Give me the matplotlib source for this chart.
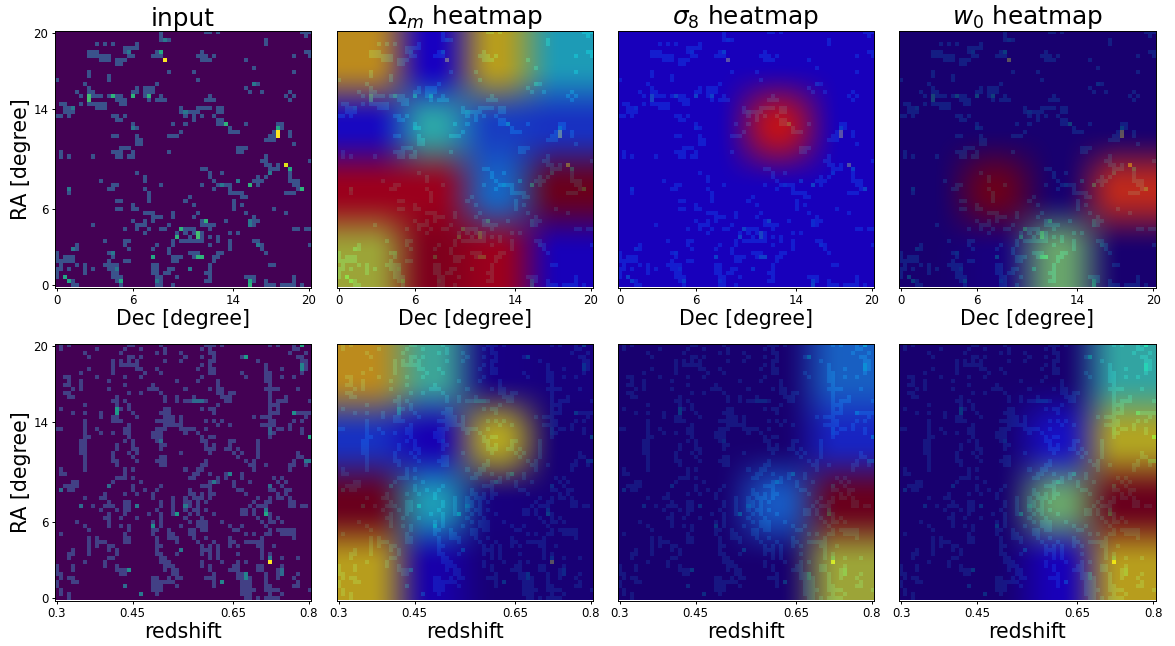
import numpy as np
import matplotlib
matplotlib.use("Agg")
import matplotlib.pyplot as plt

N = 64
tick_pos = [0, 19, 44, 63]
dec_labels = ["0", "6", "14", "20"]
ra_labels = ["0", "6", "14", "20"]
z_labels = ["0.3", "0.45", "0.65", "0.8"]

# faint occupied cells: row -> columns
top_cells = {
63: [26,37,38,40,61,62,63], 62: [26,62], 61: [26,28,52], 60: [10,12,14,20,52], 59: [17,18,19,20],
58: [8,9,10,17,18,25,26,36,62,63], 57: [8,9,10,11,12,13,18,19,24,25,26,35,36,37,39,59,63],
56: [11,12,13,15,16,17,36,37,38,47], 55: [15,16], 54: [49], 53: [8,28,34,59], 52: [8,13], 51: [0,13,35],
50: [7,25,49,50], 49: [8,20,22,23,24,47], 48: [5,8,9,19,20,22,23,24,48,51,58],
47: [6,8,9,10,11,13,14,15,16,19,22,23,26,38,57,59], 46: [8,15,16,17,23,25,26,27,37,38,39,58],
45: [1,2,6,8,9,10,11,12,16,17], 44: [2,3,10,11,12,31,35,36,37,38,40,41],
43: [2,3,4,31,32,33,34,35,40,41], 42: [0,1,3,14,15,17,32,34,36,39], 41: [15,16,34,40,41],
40: [19,29,32,40,41,47,55,56], 39: [19,20,43,55,56], 38: [31,43,44,45,54,58], 37: [14,15,20,28,29,30,53,54,55,58],
36: [20,21,52,53,54], 35: [20,21,59], 34: [16,17,18,45,46,47], 33: [1,14,15,16,19,28,45,46],
32: [1,3,9,15,16,18,19,52], 31: [63,51,52], 30: [52,53,55], 29: [36,37,53,54,55], 28: [20,38,41,53,58],
27: [22,38,50,52,58], 26: [11,22,39,49,50,51,58,59,60], 25: [14,15,26,36,40,41,42,43,50,59,60],
24: [3,13,14,22,39,43,60], 23: [3,23,43,44,45,46,57,58,59], 22: [23,33,46,47], 21: [15,16,23,32,44],
20: [19,34,44,46], 19: [15,16,19,20,44,54], 18: [22,23,24,29,35,47,57], 17: [24,25,26,29,34,49],
16: [19,22,24,36,42,49,50], 15: [9,20,21,22,28,36,37,38,39,49], 14: [17,20,23,26,27,32,33,34,38,59,60,62,63],
13: [22,30,32,34,36,43,45], 12: [30,33,36,38,40], 11: [12,17,18,29,31,32,33,34,35,36,40,43,49,50],
10: [5,17,25,29,38,43,50,51,63], 9: [5,18,24,28,43,51], 8: [0,13,28,33,34,35,40,41,52],
7: [0,2,3,4,14,29,30,31,34,39,40], 6: [0,1,2,3,4,13,17,18,29,30,39], 5: [1,5,7,12,13,14,15,24,25,38,53,54],
4: [0,1,3,7,9,13,14,15,24,25,28,29,38], 3: [0,7,14,15,24,25,27,28,37,38], 2: [0,2,14,15,16,25,26,30,38,47,48,49,59],
1: [3,4,15,16,25,26,37,38,49,52,59], 0: [4,5,16,25,26,29,52,53,54,56,57,58,59,61],
}
# brighter cells: (column, row, value)
top_bright = [(27,56,1.0),(55,38,1.0),(55,37,1.0),(55,39,.6),(57,30,.95),(8,46,.7),(8,47,.7),(14,47,.65),
(19,47,.65),(23,47,.65),(26,58,.6),(42,40,.65),(48,25,.65),(61,24,.65),(58,29,.6),(37,16,.65),(31,14,.65),
(30,12,.65),(35,12,.7),(35,13,.7),(24,7,.6),(35,7,.65),(36,7,.65),(48,0,.65),(48,1,.6),(16,1,.6),(2,2,.6),
(3,1,.6),(3,24,.4),(27,61,.4),(49,50,.4),(48,15,.4),(48,16,.4),(50,10,.4),(4,9,.4),(33,4,.4),
(18,58,.4),(19,39,.4),(45,26,.4),(53,28,.4),(41,25,.4),(14,8,.4),(15,4,.4),(25,1,.4),(32,43,.4),(4,44,.4)]

bot_cells = {
63: [1,3,18,19,26,37,38,39,41,53,55,59], 62: [1,10,17,21,27,36,38,59,60], 61: [7,16,25,27,31,38,39,58,62],
60: [8,18,19,21,32,36,39,46,60,61], 59: [14,16,18,20,27,31,38,39,50,61,62], 58: [14,16,17,18,19,20,36,38,52,62],
57: [8,14,20,21,25,35,38,39,52,56,62], 56: [6,14,22,26,38,39,46,52,53,61], 55: [2,3,10,17,21,36,47,52,53,56,59],
54: [3,6,13,30,35,40,52,53], 53: [2,3,6,17,24,40,53], 52: [4,6,13,23,24,25,32,38,40,41,52,53,54,55,60],
51: [2,3,18,21,26,40,41,43,44,53], 50: [3,4,15,27,30,34,41,42,43,53,57], 49: [14,15,17,27,30,32,33,37,42,43,53,55,56,57,63],
48: [7,15,18,40,53,54,55], 47: [1,16,18,27,28,36,38,39,53,55], 46: [4,7,11,19,26,27,28,39,53,54,55,60,61,62,63],
45: [11,14,15,20,27,28,29,31,49,51,52,53,62], 44: [7,14,15,16,25,26,27,28,29,31,37,39,41,53,54,59,61],
43: [7,18,27,28,29,30,31,40,43,51,52,53,54,58], 42: [0,1,7,10,17,18,25,26,27,31,32,33,34,37,53,55,56,58,61],
41: [7,11,14,17,18,24,25,26,32,35,54,61], 40: [7,8,18,24,25,26,36,38,39,53], 39: [6,7,17,19,25,36,37,43,44,50],
38: [6,7,15,19,26,27,37,39,43,50], 37: [6,7,15,19,20,26,37,38,39,42,43,45,50], 36: [6,7,14,18,20,31,38,44,46,50,60],
35: [7,14,19,26,27,45,50,60,61], 34: [7,14,15,20,25,26,27,37,47,49,59], 33: [7,15,26,27,36,37,48,49,52,58,59,62],
32: [1,7,17,19,32,35,36,49,58], 31: [1,2,17,34,35,38,42,46], 30: [15,16,17,19,33,34,40,42,46,54,56],
29: [4,5,14,21,38,40,44,48,55,57], 28: [2,3,4,5,19,26,36,37,38,44,56], 27: [3,4,19,22,25,33,38,45,46,53,54,57,58],
26: [12,17,20,24,33,34,36,38,39,47,55,57], 25: [7,11,12,24,29,32,34,35,36,38,50,53,55,56,58],
24: [13,17,18,26,29,32,33,35,37,49,52,53,58,59], 23: [9,12,13,14,17,18,26,29,33,35,48,50,51,52,58,59,61,62],
22: [11,15,17,18,25,29,32,34,35,37,46,47,49,52], 21: [13,17,23,26,29,33,35,39,46,47,49,53],
20: [12,13,16,20,26,32,36,50,53,55], 19: [5,13,24,26,33,35,36,37,41,51,53,54,56], 18: [7,13,16,18,26,31,35,36,37,43,46,52],
17: [8,18,24,25,28,33,34,36,37,44,45,53,55,56,57,58,59], 16: [1,17,24,28,29,33,34,47,49,52,53,56,57,58,59],
15: [8,10,17,18,25,28,29,30,34,37,43,51,59], 14: [8,10,11,12,17,18,25,30,35,39,43,44,47,48,49,50,51],
13: [8,10,13,14,25,26,36,38,40,43,45,50,51,54], 12: [4,8,13,15,25,36,37,38,40,51], 11: [3,4,8,15,25,26,30,36,38,40,45,51,53],
10: [3,13,14,26,27,38,40,51,53,56,60], 9: [7,12,26,27,28,36,41,45,47], 8: [0,4,12,15,27,28,29,36,38,44,45,50,51,56],
7: [0,4,15,16,17,27,29,30,38,43,44,45,50,51,55], 6: [0,1,16,17,29,30,39,45,46,52,55,60], 5: [1,3,4,24,25,28,30,31,37,38,39,45,46,48,52,55,59],
4: [0,4,5,24,25,26,27,28,29,39,46,47,48,52,60], 3: [0,24,25,26,30,39,46,47,48,52,53,59,60], 2: [1,24,25,26,46,47,48,49,52,53,54,55,63],
1: [1,3,25,46,47,48,53,56], 0: [3,47,48,50,52,53,54,55],
}
bot_bright = [(53,9,1.0),(61,63,.6),(47,60,.55),(15,46,.55),(15,47,.55),(63,40,.6),(59,46,.5),(61,57,.45),(61,58,.45),
(30,21,.55),(52,21,.6),(24,18,.5),(18,7,.5),(41,4,.45),(47,5,.45),(47,6,.45),(43,31,.45),(39,29,.4),(26,39,.35),
(62,34,.4),(63,34,.4),(56,6,.35),(56,7,.35),(32,23,.4),(34,49,.35),(35,49,.35),(36,49,.35),(6,23,.35),(20,23,.4),
(13,28,.35),(1,27,.35),(53,28,.35),(53,41,.3),(53,42,.3),(31,12,.4),(21,1,.4),(17,3,.35),(53,10,.4),(52,22,.4)]

# 4x4 heatmap values, rows listed top (RA=20) to bottom (RA=0)
om_top = [[.68,.12,.65,.36],[.14,.39,.22,.20],[.93,.93,.28,1.0],[.60,.97,.93,.10]]
s8_top = [[.105,.105,.105,.105],[.105,.105,.88,.105],[.105,.105,.105,.105],[.105,.105,.105,.105]]
w0_top = [[.00,.00,.00,.00],[.00,.00,.00,.00],[.00,1.0,.00,.84],[.00,.02,.50,.00]]
om_bot = [[.68,.42,.03,.02],[.20,.09,.64,.01],[1.0,.36,.02,.01],[.65,.08,.01,.01]]
s8_bot = [[.00,.00,.00,.27],[.00,.00,.00,.18],[.00,.00,.26,1.0],[.00,.00,.00,.60]]
w0_bot = [[.00,.00,.00,.40],[.00,.00,.15,.64],[.00,.00,.50,1.0],[.00,.00,.10,.65]]

def build_input(cells, bright, level):
    g = np.zeros((N, N))
    for r, cols in cells.items():
        g[r, cols] = level
    for c, r, v in bright:
        g[r, c] = v
    return g

W, H = 1175, 646
fig = plt.figure(figsize=(W / 100, H / 100), dpi=100)
lefts = [54.5, 336.5, 617.5, 899]
tops = [31, 344]
side = 256.5
panels = [
    ("input", None, top_cells, top_bright, .25), (r"$\Omega_m$ heatmap", om_top, top_cells, top_bright, .25),
    (r"$\sigma_8$ heatmap", s8_top, top_cells, top_bright, .25), (r"$w_0$ heatmap", w0_top, top_cells, top_bright, .25),
    (None, None, bot_cells, bot_bright, .19), (None, om_bot, bot_cells, bot_bright, .19),
    (None, s8_bot, bot_cells, bot_bright, .19), (None, w0_bot, bot_cells, bot_bright, .19),
]
jet = matplotlib.colormaps["jet"]
for i, (title, heat, cells, bright, level) in enumerate(panels):
    row, col = divmod(i, 4)
    ax = fig.add_axes([lefts[col] / W, 1 - (tops[row] + side) / H, side / W, side / H])
    ax.imshow(build_input(cells, bright, level), origin="lower", cmap="viridis", vmin=0, vmax=1,
              interpolation="nearest", extent=(-.5, N - .5, -.5, N - .5), aspect="auto")
    if heat is not None:
        # the 4x4 map is coloured first, then resampled; edges are repeated so the border stays opaque
        rgb = jet(np.pad(np.array(heat), 2, mode="edge"))[:, :, :3]
        ax.imshow(rgb, origin="upper", interpolation="hanning", alpha=0.65,
                  extent=(-32.5, 95.5, -32.5, 95.5), aspect="auto")
    ax.set_xlim(-.5, N - .5)
    ax.set_ylim(-.5, N - .5)
    ax.tick_params(length=2.5, pad=2, width=0.7)
    for s in ax.spines.values():
        s.set_linewidth(0.7)
    ax.set_xticks(tick_pos)
    ax.set_xticklabels(dec_labels if row == 0 else z_labels, fontsize=8.5)
    ax.set_xlabel("Dec [degree]" if row == 0 else "redshift", fontsize=14.8, labelpad=1.3)
    if col == 0:
        ax.set_yticks(tick_pos)
        ax.set_yticklabels(ra_labels, fontsize=8.5)
        ax.set_ylabel("RA [degree]", fontsize=14.8, labelpad=1.6)
    else:
        ax.set_yticks([])
    if title:
        ax.set_title(title, fontsize=17.8, pad=3)
fig.savefig("out.png", dpi=100)
